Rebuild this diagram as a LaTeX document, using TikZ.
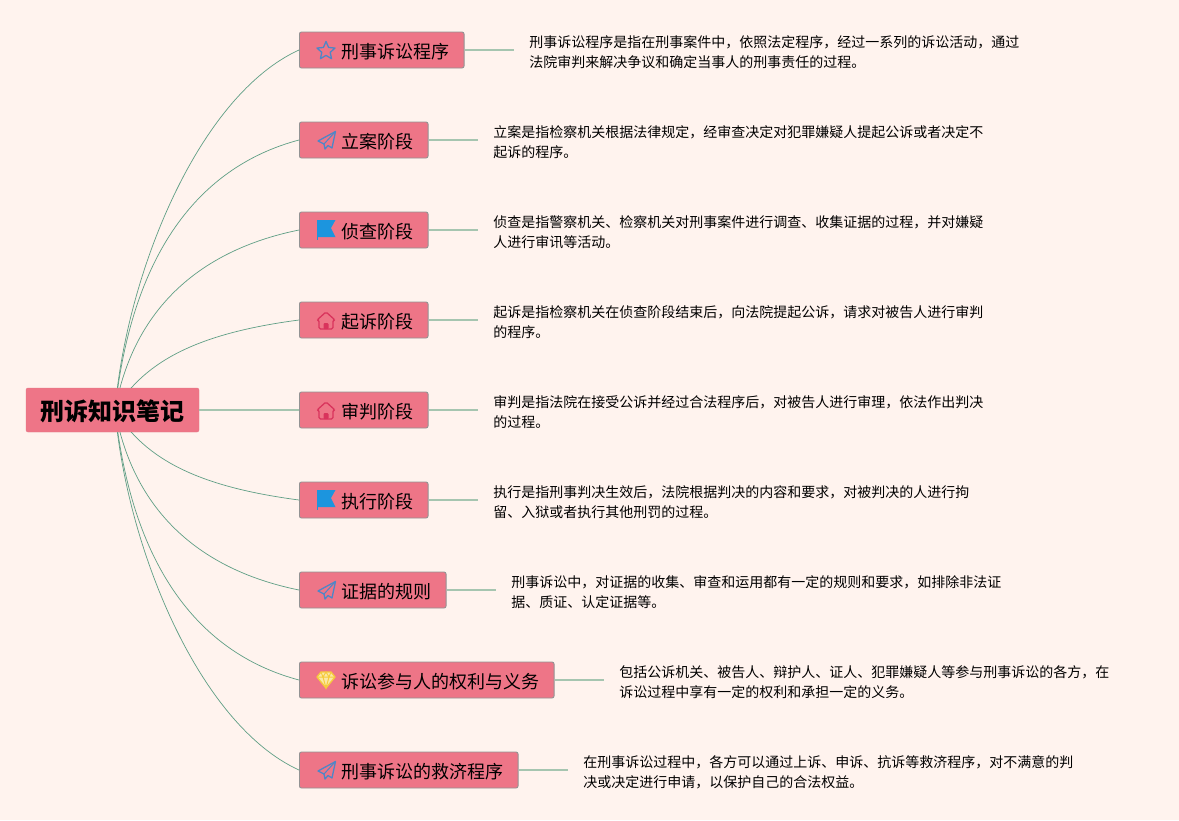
\documentclass[tikz,border=0pt]{standalone}
\usepackage{fontspec}
\setmainfont{Noto Sans CJK SC}
\usepackage{xcolor}
\usetikzlibrary{positioning}
\definecolor{pagebg}{HTML}{FFF3EE}
\definecolor{boxfill}{HTML}{EE7587}
\definecolor{curvegreen}{HTML}{5F9E85}
\definecolor{stemgreen}{HTML}{A6C5B0}
\definecolor{iconblue}{HTML}{4F86C6}
\definecolor{flagblue}{HTML}{1C95DE}
\definecolor{iconred}{HTML}{D9345C}
\definecolor{iconyellow}{HTML}{F6CB3C}

\tikzset{
    % Icones das caixas
    staricon/.pic={
        \draw[iconblue, line width=1.3pt, line join=round] (-90:9.5) -- (-54:4.4) -- (-18:9.5) -- (18:4.4) -- (54:9.5) -- (90:4.4) -- (126:9.5) -- (162:4.4) -- (198:9.5) -- (234:4.4) -- cycle;
    },
    planeicon/.pic={
        \draw[iconblue, line width=1.3pt, line join=round] (8.5,-8.5) -- (-9,1) -- (-3,4) -- (-2,9) -- (1,5.5) -- (5,8) -- cycle;
        \draw[iconblue, line width=1pt] (8.5,-8.5) -- (-3,4);
    },
    flagicon/.pic={
        \fill[flagblue] (-9,-10) -- (9.5,-10) -- (5,-2) -- (9.5,7) -- (-9,7) -- cycle;
        \draw[flagblue, line width=.8pt] (-9,-10) -- (-9,10);
    },
    houseicon/.pic={
        \draw[iconred, line width=1.3pt, line join=round, rounded corners=1.5pt] (0,-9) -- (-9,-1) -- (-7,-1) -- (-7,8) -- (7,8) -- (7,-1) -- (9,-1) -- cycle;
        \fill[iconred, rounded corners=1pt] (-2.5,8) -- (-2.5,2) -- (2.5,2) -- (2.5,8) -- cycle;
    },
    gemicon/.pic={
        \draw[iconyellow, fill=iconyellow!45, line width=1.3pt, line join=round] (-5,-8) -- (5,-8) -- (9,-3) -- (0,8) -- (-9,-3) -- cycle;
        \draw[iconyellow, line width=1pt] (-9,-3) -- (9,-3) (-5,-8) -- (-3,-3) -- (0,8) -- (3,-3) -- (5,-8) (-3,-3) -- (0,-8) -- (3,-3);
    }
}

\begin{document}
\begin{tikzpicture}[
    x=1pt, y=-1pt,
    rootbox/.style={rectangle, fill=boxfill, draw=boxfill!90!gray, rounded corners=2pt, minimum width=173pt, minimum height=44pt, inner sep=0pt, text height=21pt, text depth=0pt, font=\fontsize{24}{28}\selectfont\bfseries},
    branch/.style={rectangle, fill=boxfill, draw=gray!85, line width=.9pt, rounded corners=2pt, minimum height=36pt, inner xsep=14.8pt, inner ysep=0pt, text height=16pt, text depth=0pt, font=\fontsize{18}{22}\selectfont},
    info/.style={rectangle, align=left, inner xsep=15.7pt, inner ysep=0pt, yshift=-2pt, font=\fontsize{14}{20}\selectfont},
    curve/.style={draw=curvegreen, line width=.7pt},
    stem/.style={draw=stemgreen, line width=1.4pt}
]

% Fundo da pagina
\path[fill=pagebg, use as bounding box] (0,0) rectangle (1179,820);

% Caixa central
\coordinate (hub) at (115,410);
\node[rootbox] (root) at (112.5,410) {刑诉知识笔记};

% Caixas principais
\node[branch, anchor=west] (programa) at (299,50) {\hspace*{27pt}刑事诉讼程序};
\node[branch, below=53.1pt of programa.south west, anchor=north west] (lian) {\hspace*{27pt}立案阶段};
\node[branch, below=53.1pt of lian.south west, anchor=north west] (zhencha) {\hspace*{27pt}侦查阶段};
\node[branch, below=53.1pt of zhencha.south west, anchor=north west] (qisu) {\hspace*{27pt}起诉阶段};
\node[branch, below=53.1pt of qisu.south west, anchor=north west] (shenpan) {\hspace*{27pt}审判阶段};
\node[branch, below=53.1pt of shenpan.south west, anchor=north west] (zhixing) {\hspace*{27pt}执行阶段};
\node[branch, below=53.1pt of zhixing.south west, anchor=north west] (zhengju) {\hspace*{27pt}证据的规则};
\node[branch, below=53.1pt of zhengju.south west, anchor=north west] (canyu) {\hspace*{27pt}诉讼参与人的权利与义务};
\node[branch, below=53.1pt of canyu.south west, anchor=north west] (jiuji) {\hspace*{27pt}刑事诉讼的救济程序};

% Icones
\pic at ([xshift=27pt, yshift=-1pt]programa.west) {staricon};
\pic at ([xshift=28pt]lian.west) {planeicon};
\pic at ([xshift=27pt]zhencha.west) {flagicon};
\pic at ([xshift=27pt, yshift=-1pt]qisu.west) {houseicon};
\pic at ([xshift=27pt, yshift=-1pt]shenpan.west) {houseicon};
\pic at ([xshift=27pt]zhixing.west) {flagicon};
\pic at ([xshift=28pt]zhengju.west) {planeicon};
\pic at ([xshift=27pt]canyu.west) {gemicon};
\pic at ([xshift=28pt]jiuji.west) {planeicon};

% Textos laterais
\node[info, right=49pt of programa] (info_programa) {刑事诉讼程序是指在刑事案件中，依照法定程序，经过一系列的诉讼活动，通过\\法院审判来解决争议和确定当事人的刑事责任的过程。};
\node[info, right=49pt of lian] (info_lian) {立案是指检察机关根据法律规定，经审查决定对犯罪嫌疑人提起公诉或者决定不\\起诉的程序。};
\node[info, right=49pt of zhencha] (info_zhencha) {侦查是指警察机关、检察机关对刑事案件进行调查、收集证据的过程，并对嫌疑\\人进行审讯等活动。};
\node[info, right=49pt of qisu] (info_qisu) {起诉是指检察机关在侦查阶段结束后，向法院提起公诉，请求对被告人进行审判\\的程序。};
\node[info, right=49pt of shenpan] (info_shenpan) {审判是指法院在接受公诉并经过合法程序后，对被告人进行审理，依法作出判决\\的过程。};
\node[info, right=49pt of zhixing] (info_zhixing) {执行是指刑事判决生效后，法院根据判决的内容和要求，对被判决的人进行拘\\留、入狱或者执行其他刑罚的过程。};
\node[info, right=49pt of zhengju] (info_zhengju) {刑事诉讼中，对证据的收集、审查和运用都有一定的规则和要求，如排除非法证\\据、质证、认定证据等。};
\node[info, right=49pt of canyu] (info_canyu) {包括公诉机关、被告人、辩护人、证人、犯罪嫌疑人等参与刑事诉讼的各方，在\\诉讼过程中享有一定的权利和承担一定的义务。};
\node[info, right=49pt of jiuji] (info_jiuji) {在刑事诉讼过程中，各方可以通过上诉、申诉、抗诉等救济程序，对不满意的判\\决或决定进行申请，以保护自己的合法权益。};

% Ligacoes laterais
\draw[stem] (programa.east) -- (programa.east -| info_programa.west);
\draw[stem] (lian.east) -- (lian.east -| info_lian.west);
\draw[stem] (zhencha.east) -- (zhencha.east -| info_zhencha.west);
\draw[stem] (qisu.east) -- (qisu.east -| info_qisu.west);
\draw[stem] (shenpan.east) -- (shenpan.east -| info_shenpan.west);
\draw[stem] (zhixing.east) -- (zhixing.east -| info_zhixing.west);
\draw[stem] (zhengju.east) -- (zhengju.east -| info_zhengju.west);
\draw[stem] (canyu.east) -- (canyu.east -| info_canyu.west);
\draw[stem] (jiuji.east) -- (jiuji.east -| info_jiuji.west);

% Curvas saindo da caixa central
\begin{scope}
\clip (0,0) rectangle (1179,388) (0,432) rectangle (1179,820);
\draw[curve] (hub) .. controls (127,270) and (200,95) .. (programa.west);
\draw[curve] (hub) .. controls (133,245) and (205,165) .. (lian.west);
\draw[curve] (hub) .. controls (135,300) and (210,248) .. (zhencha.west);
\draw[curve] (hub) .. controls (145,360) and (200,333) .. (qisu.west);
\draw[curve] (hub) .. controls (145,460) and (200,487) .. (zhixing.west);
\draw[curve] (hub) .. controls (135,520) and (210,572) .. (zhengju.west);
\draw[curve] (hub) .. controls (133,575) and (205,655) .. (canyu.west);
\draw[curve] (hub) .. controls (127,550) and (200,725) .. (jiuji.west);
\end{scope}
\draw[stem] (root.east) -- (shenpan.west);

\end{tikzpicture}
\end{document}
